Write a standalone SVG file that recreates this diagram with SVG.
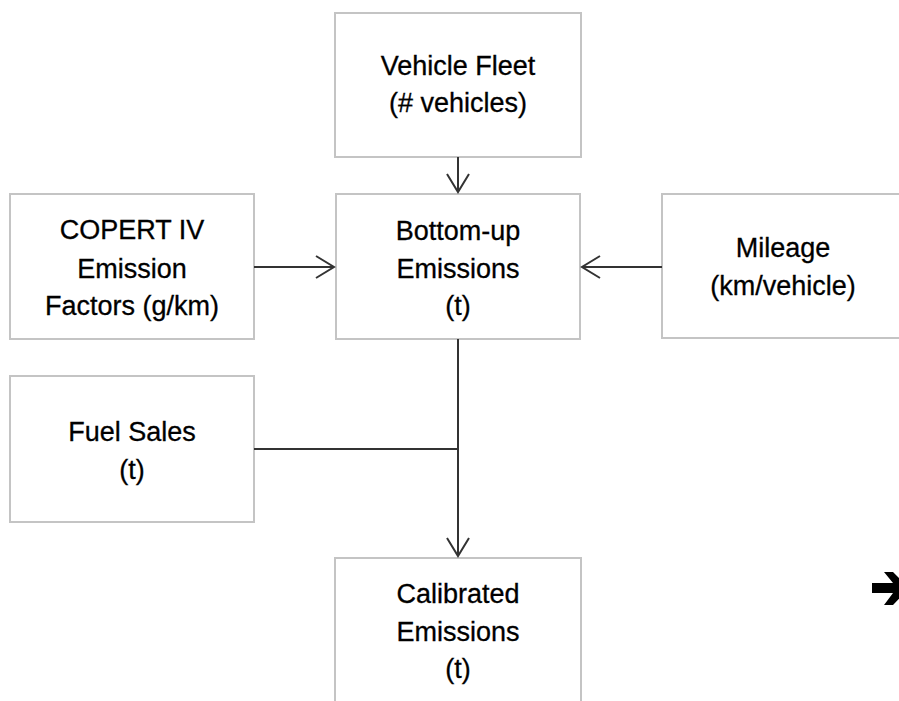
<svg xmlns="http://www.w3.org/2000/svg" width="899" height="701" viewBox="0 0 899 701">
<style>
.box{fill:#fff;stroke:#c4c4c4;stroke-width:2}
.lbl{font-family:"Liberation Sans",Arial,sans-serif;font-size:27px;fill:#000;stroke:#000;stroke-width:0.3;text-anchor:middle}
.con{fill:none;stroke:#333;stroke-width:2}
.head{fill:none;stroke:#333;stroke-width:2;stroke-linejoin:miter}
</style>
<rect width="899" height="701" fill="#fff"/>
<g id="vehicle-fleet">
<rect class="box" x="335" y="13" width="246" height="144"/>
<text class="lbl" x="458" y="75">Vehicle Fleet</text>
<text class="lbl" x="458" y="112">(# vehicles)</text>
</g>
<g id="copert">
<rect class="box" x="10" y="194" width="244" height="145"/>
<text class="lbl" x="132" y="239">COPERT IV</text>
<text class="lbl" x="132" y="278">Emission</text>
<text class="lbl" x="132" y="315">Factors (g/km)</text>
</g>
<g id="bottom-up">
<rect class="box" x="336" y="194" width="244" height="145"/>
<text class="lbl" x="458" y="240">Bottom-up</text>
<text class="lbl" x="458" y="278">Emissions</text>
<text class="lbl" x="458" y="315">(t)</text>
</g>
<g id="mileage">
<rect class="box" x="662" y="194" width="244" height="144"/>
<text class="lbl" x="783" y="257">Mileage</text>
<text class="lbl" x="783" y="295">(km/vehicle)</text>
</g>
<g id="fuel-sales">
<rect class="box" x="10" y="376" width="244" height="146"/>
<text class="lbl" x="132" y="441">Fuel Sales</text>
<text class="lbl" x="132" y="479">(t)</text>
</g>
<g id="calibrated">
<rect class="box" x="335" y="558" width="246" height="160"/>
<text class="lbl" x="458" y="603">Calibrated</text>
<text class="lbl" x="458" y="641">Emissions</text>
<text class="lbl" x="458" y="678">(t)</text>
</g>
<g id="connectors">
<path class="con" d="M458 157V192"/>
<path class="head" d="M447 174L458 192L469 174"/>
<path class="con" d="M254 267H334"/>
<path class="head" d="M316 256L334 267L316 278"/>
<path class="con" d="M662 267H582"/>
<path class="head" d="M600 256L582 267L600 278"/>
<path class="con" d="M458 339V556"/>
<path class="con" d="M254 449H458"/>
<path class="head" d="M447 538L458 556L469 538"/>
</g>
<polygon fill="#000" points="872,583 893,583 884,572 893,572 909,588 893,605 884,605 893,593 872,593"/>
</svg>
